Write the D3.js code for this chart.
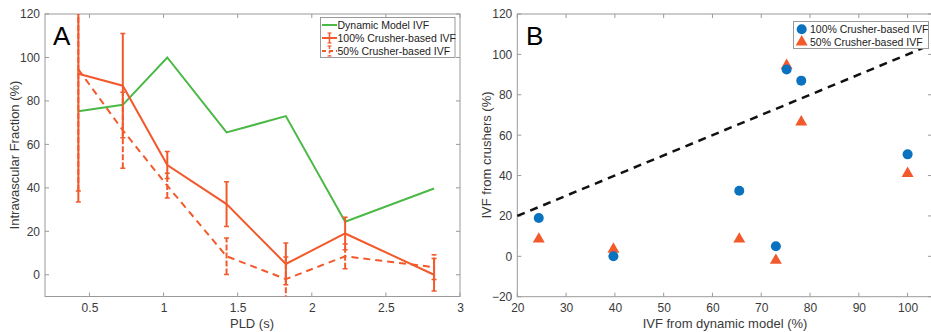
<!DOCTYPE html>
<html><head><meta charset="utf-8">
<script src="https://cdn.jsdelivr.net/npm/d3@7"></script>
<style>
body{margin:0;background:#fff;}
svg{display:block;font-family:"Liberation Sans",Arial,sans-serif;}
</style></head>
<body>
<svg id="chart" width="931" height="332"></svg>
<script>
// ---- data ----
const pld = [0.425, 0.725, 1.025, 1.425, 1.825, 2.225, 2.825];
const dynamicIVF = [75.2, 78.2, 100, 65.5, 73, 24.4, 39.7];
const crusher100 = [92.5, 87, 50.5, 32.5, 5, 19, 0];
const crusher100Err = [59, 24, 6.2, 10.3, 9.6, 7.5, 7.5];
const crusher50 = [94.5, 66.5, 41, 8.5, -2, 8.5, 3.5];
const crusher50Err = [56, 17.5, 5.7, 8.4, 10.2, 5.7, 5.7];
const xTicksA = [0.5, 1, 1.5, 2, 2.5, 3];
const yTicksA = [0, 20, 40, 60, 80, 100, 120];
const xTicksB = [20, 30, 40, 50, 60, 70, 80, 90, 100];
const yTicksB = [-20, 0, 20, 40, 60, 80, 100, 120];
const legendA = ["Dynamic Model IVF", "100% Crusher-based IVF", "50% Crusher-based IVF"];
const legendB = ["100% Crusher-based IVF", "50% Crusher-based IVF"];

const GREEN = "#4cb947", RED = "#f25a2c", BLUE = "#0b72bf";
const AXC = "#9a9a9a", TXT = "#3a3a3a";
const svg = d3.select("#chart");

function frame(g, x, y, xt, yt, fmtX) {
  const [x0, x1] = x.range(), [y0, y1] = y.range();
  g.append("rect").attr("x", x0).attr("y", y1).attr("width", x1 - x0).attr("height", y0 - y1)
    .attr("fill", "none").attr("stroke", AXC).attr("stroke-width", 1);
  const tl = 4;
  xt.forEach(t => {
    const px = x(t);
    g.append("line").attr("x1", px).attr("x2", px).attr("y1", y0).attr("y2", y0 - tl).attr("stroke", AXC);
    g.append("line").attr("x1", px).attr("x2", px).attr("y1", y1).attr("y2", y1 + tl).attr("stroke", AXC);
  });
  yt.forEach(t => {
    const py = y(t);
    g.append("line").attr("x1", x0).attr("x2", x0 + tl).attr("y1", py).attr("y2", py).attr("stroke", AXC);
    g.append("line").attr("x1", x1).attr("x2", x1 - tl).attr("y1", py).attr("y2", py).attr("stroke", AXC);
  });
  const ax = g.append("g").attr("transform", `translate(0,${y0})`)
    .call(d3.axisBottom(x).tickValues(xt).tickSize(0).tickPadding(7).tickFormat(fmtX));
  const ay = g.append("g").attr("transform", `translate(${x0},0)`)
    .call(d3.axisLeft(y).tickValues(yt).tickSize(0).tickPadding(5));
  [ax, ay].forEach(a => {
    a.select(".domain").remove();
    a.selectAll("text").attr("fill", TXT).style("font-size", "12px").style("font-family", "'Liberation Sans',Arial,sans-serif");
  });
}

// ================= Panel A =================
const xA = d3.scaleLinear().domain([0.2, 3]).range([45, 460]);
const yA = d3.scaleLinear().domain([-10, 120]).range([296.5, 14]);
const gA = svg.append("g");
svg.append("defs").append("clipPath").attr("id", "clipA").append("rect")
  .attr("x", 45).attr("y", 14).attr("width", 415).attr("height", 282.5);
frame(gA, xA, yA, xTicksA, yTicksA, d => d3.format("")(d));

const plotA = gA.append("g").attr("clip-path", "url(#clipA)");
const lineA = vals => d3.line().x((d, i) => xA(pld[i])).y(d => yA(d))(vals);

function errBars(vals, errs, dash) {
  vals.forEach((v, i) => {
    const px = xA(pld[i]);
    plotA.append("line").attr("x1", px).attr("x2", px)
      .attr("y1", yA(v - errs[i])).attr("y2", yA(v + errs[i]))
      .attr("stroke", RED).attr("stroke-width", 2).attr("stroke-dasharray", dash);
    [v - errs[i], v + errs[i]].forEach(e => {
      plotA.append("line").attr("x1", px - 2.5).attr("x2", px + 2.5)
        .attr("y1", yA(e)).attr("y2", yA(e)).attr("stroke", RED).attr("stroke-width", 1.5);
    });
  });
}
plotA.append("path").attr("d", lineA(dynamicIVF)).attr("fill", "none").attr("stroke", GREEN).attr("stroke-width", 2);
errBars(crusher50, crusher50Err, "6,2");
plotA.append("path").attr("d", lineA(crusher50)).attr("fill", "none").attr("stroke", RED).attr("stroke-width", 2).attr("stroke-dasharray", "7,5");
errBars(crusher100, crusher100Err, null);
plotA.append("path").attr("d", lineA(crusher100)).attr("fill", "none").attr("stroke", RED).attr("stroke-width", 2);

gA.append("text").attr("x", 53).attr("y", 45).text("A").style("font-size", "26px").attr("fill", "#000");
gA.append("text").attr("x", 252).attr("y", 328).attr("text-anchor", "middle").text("PLD (s)")
  .style("font-size", "13px").attr("fill", TXT);
gA.append("text").attr("transform", "translate(19,155) rotate(-90)").attr("text-anchor", "middle")
  .text("Intravascular Fraction (%)").style("font-size", "13px").attr("fill", TXT);

// legend A
const lgA = gA.append("g");
lgA.append("rect").attr("x", 320.5).attr("y", 17.5).attr("width", 134.5).attr("height", 40)
  .attr("fill", "#fff").attr("stroke", AXC);
const lyA = [25, 38, 51];
legendA.forEach((t, i) => {
  const yy = lyA[i];
  const col = i === 0 ? GREEN : RED;
  lgA.append("line").attr("x1", 322).attr("x2", 337).attr("y1", yy).attr("y2", yy)
    .attr("stroke", col).attr("stroke-width", 2).attr("stroke-dasharray", i === 2 ? "4,3" : null);
  if (i > 0) {
    lgA.append("line").attr("x1", 329.5).attr("x2", 329.5).attr("y1", yy - 5).attr("y2", yy + 5)
      .attr("stroke", RED).attr("stroke-width", 1.5).attr("stroke-dasharray", i === 2 ? "3,1.5" : null);
    [yy - 5, yy + 5].forEach(c => lgA.append("line").attr("x1", 327.5).attr("x2", 331.5)
      .attr("y1", c).attr("y2", c).attr("stroke", RED).attr("stroke-width", 1.2));
  }
  lgA.append("text").attr("x", 337.5).attr("y", yy + 4).text(t).style("font-size", "10.5px").attr("fill", "#222");
});

// ================= Panel B =================
const xB = d3.scaleLinear().domain([20, 105]).range([517.3, 932]);
const yB = d3.scaleLinear().domain([-20, 120]).range([296.7, 14]);
const gB = svg.append("g");
frame(gB, xB, yB, xTicksB, yTicksB, d => d);

gB.append("line").attr("x1", xB(20)).attr("y1", yB(20)).attr("x2", xB(105)).attr("y2", yB(105))
  .attr("stroke", "#111").attr("stroke-width", 2.5).attr("stroke-dasharray", "8,6");

const tri = d3.symbol().type(d3.symbolTriangle).size(62);
dynamicIVF.forEach((d, i) => {
  gB.append("path").attr("d", tri()).attr("transform", `translate(${xB(d)},${yB(crusher50[i])})`)
    .attr("fill", RED);
});
dynamicIVF.forEach((d, i) => {
  gB.append("circle").attr("cx", xB(d)).attr("cy", yB(crusher100[i])).attr("r", 5).attr("fill", BLUE);
});

gB.append("text").attr("x", 526).attr("y", 45).text("B").style("font-size", "26px").attr("fill", "#000");
gB.append("text").attr("x", 725).attr("y", 328).attr("text-anchor", "middle").text("IVF from dynamic model (%)")
  .style("font-size", "13px").attr("fill", TXT);
gB.append("text").attr("transform", "translate(491,155) rotate(-90)").attr("text-anchor", "middle")
  .text("IVF from crushers (%)").style("font-size", "13px").attr("fill", TXT);

const lgB = gB.append("g");
lgB.append("rect").attr("x", 793.5).attr("y", 21.5).attr("width", 135).attr("height", 27)
  .attr("fill", "#fff").attr("stroke", AXC);
const lyB = [29.3, 42];
legendB.forEach((t, i) => {
  const yy = lyB[i];
  if (i === 0) lgB.append("circle").attr("cx", 801.7).attr("cy", yy).attr("r", 5).attr("fill", BLUE);
  else lgB.append("path").attr("d", tri()).attr("transform", `translate(801.7,${yy})`).attr("fill", RED);
  lgB.append("text").attr("x", 810).attr("y", yy + 4).text(t).style("font-size", "10.5px").attr("fill", "#222");
});
</script>
</body></html>
